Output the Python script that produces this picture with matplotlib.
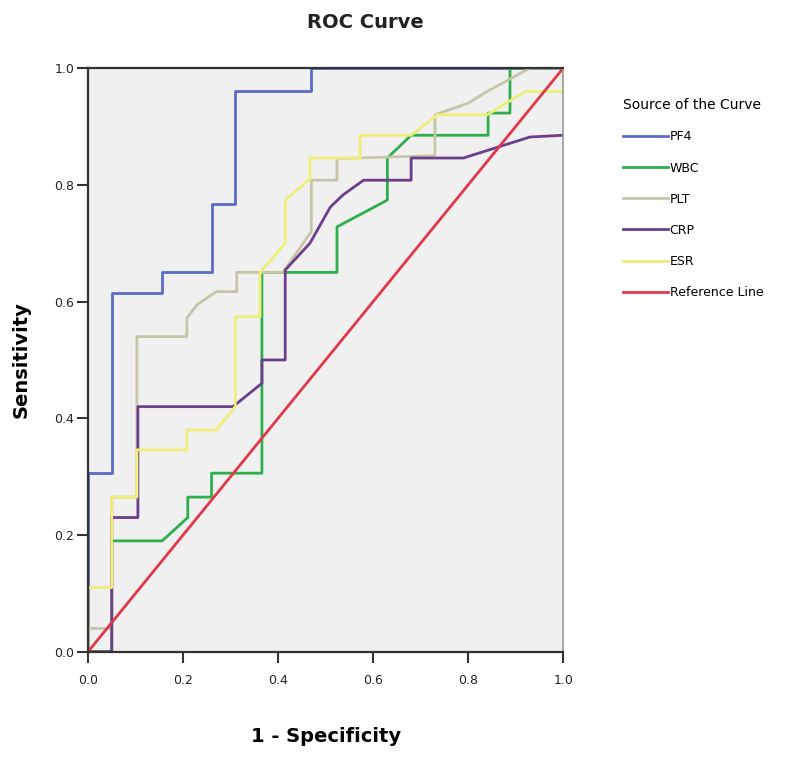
import matplotlib.pyplot as plt

# ROC curves (1 - specificity, sensitivity)
pf4_x = [0, 0, 0.05, 0.05, 0.156, 0.156, 0.26, 0.26, 0.31, 0.31, 0.47, 0.47, 1.0]
pf4_y = [0, 0.306, 0.306, 0.615, 0.615, 0.65, 0.65, 0.767, 0.767, 0.96, 0.96, 1.0, 1.0]

wbc_x = [0, 0.05, 0.05, 0.156, 0.21, 0.21, 0.26, 0.26, 0.366, 0.366, 0.524, 0.524,
         0.63, 0.63, 0.68, 0.73, 0.842, 0.842, 0.888, 0.888, 1.0]
wbc_y = [0, 0, 0.19, 0.19, 0.23, 0.265, 0.265, 0.306, 0.306, 0.65, 0.65, 0.728,
         0.774, 0.846, 0.885, 0.885, 0.885, 0.923, 0.923, 1.0, 1.0]

plt_x = [0, 0, 0.05, 0.05, 0.103, 0.103, 0.208, 0.208, 0.23, 0.27, 0.313, 0.313,
         0.41, 0.47, 0.47, 0.524, 0.524, 0.73, 0.73, 0.8, 0.84, 0.93, 1.0]
plt_y = [0, 0.04, 0.04, 0.265, 0.265, 0.54, 0.54, 0.572, 0.595, 0.617, 0.617, 0.65,
         0.65, 0.72, 0.808, 0.808, 0.845, 0.85, 0.92, 0.94, 0.96, 1.0, 1.0]

crp_x = [0, 0.05, 0.05, 0.105, 0.105, 0.305, 0.366, 0.366, 0.415, 0.415, 0.467,
         0.51, 0.537, 0.58, 0.68, 0.68, 0.79, 0.93, 1.0]
crp_y = [0, 0, 0.23, 0.23, 0.42, 0.42, 0.46, 0.5, 0.5, 0.654, 0.70,
         0.762, 0.783, 0.808, 0.808, 0.846, 0.846, 0.882, 0.885]

esr_x = [0, 0, 0.05, 0.05, 0.103, 0.103, 0.208, 0.208, 0.27, 0.31, 0.31, 0.362,
         0.362, 0.415, 0.415, 0.467, 0.467, 0.573, 0.573, 0.68, 0.735, 0.84,
         0.92, 1.0, 1.0]
esr_y = [0, 0.11, 0.11, 0.265, 0.265, 0.346, 0.346, 0.38, 0.38, 0.42, 0.574, 0.574,
         0.65, 0.70, 0.774, 0.81, 0.846, 0.846, 0.885, 0.885, 0.92, 0.92,
         0.96, 0.96, 1.0]

ref_x = [0, 1]
ref_y = [0, 1]

fig = plt.figure(figsize=(8, 7.57), dpi=100)
ax = fig.add_axes([0.11, 0.139, 0.594, 0.771])
ax.set_facecolor('#f0f0f0')

lw = 2.0
ax.plot(pf4_x, pf4_y, color='#5a6cc4', lw=lw, label='PF4')
ax.plot(wbc_x, wbc_y, color='#2fae4e', lw=lw, label='WBC')
ax.plot(plt_x, plt_y, color='#c6c6a6', lw=lw, label='PLT')
ax.plot(crp_x, crp_y, color='#6c3e8c', lw=lw, label='CRP')
ax.plot(esr_x, esr_y, color='#eeee78', lw=lw, label='ESR')
ax.plot(ref_x, ref_y, color='#e0384a', lw=lw, label='Reference Line')

ax.set_xlim(0, 1)
ax.set_ylim(0, 1)
ticks = [0.0, 0.2, 0.4, 0.6, 0.8, 1.0]
ax.set_xticks(ticks)
ax.set_yticks(ticks)
ax.set_xticklabels(['%.1f' % t for t in ticks])
ax.set_yticklabels(['%.1f' % t for t in ticks])
ax.tick_params(direction='out', length=8, width=1.5, colors='#333333',
               labelsize=9, labelcolor='#222222')
ax.tick_params(axis='x', pad=8)
ax.tick_params(axis='y', pad=2)

for s in ['left', 'bottom', 'top']:
    ax.spines[s].set_color('#333333')
    ax.spines[s].set_linewidth(1.6)
ax.spines['right'].set_color('#999999')
ax.spines['right'].set_linewidth(1.2)

ax.set_xlabel('1 - Specificity', fontsize=14, fontweight='bold', labelpad=29)
ax.set_ylabel('Sensitivity', fontsize=14, fontweight='bold', labelpad=17)
fig.text(0.457, 0.97, 'ROC Curve', ha='center', va='center', fontsize=14,
         fontweight='bold', color='#222222')

leg = fig.legend(loc='upper left', bbox_to_anchor=(0.765, 0.885), frameon=False,
                 fontsize=9, title='Source of the Curve', title_fontsize=10,
                 handlelength=3.6, handletextpad=0.1, labelspacing=1.45,
                 alignment='left')

fig.savefig('out.png', dpi=100)
